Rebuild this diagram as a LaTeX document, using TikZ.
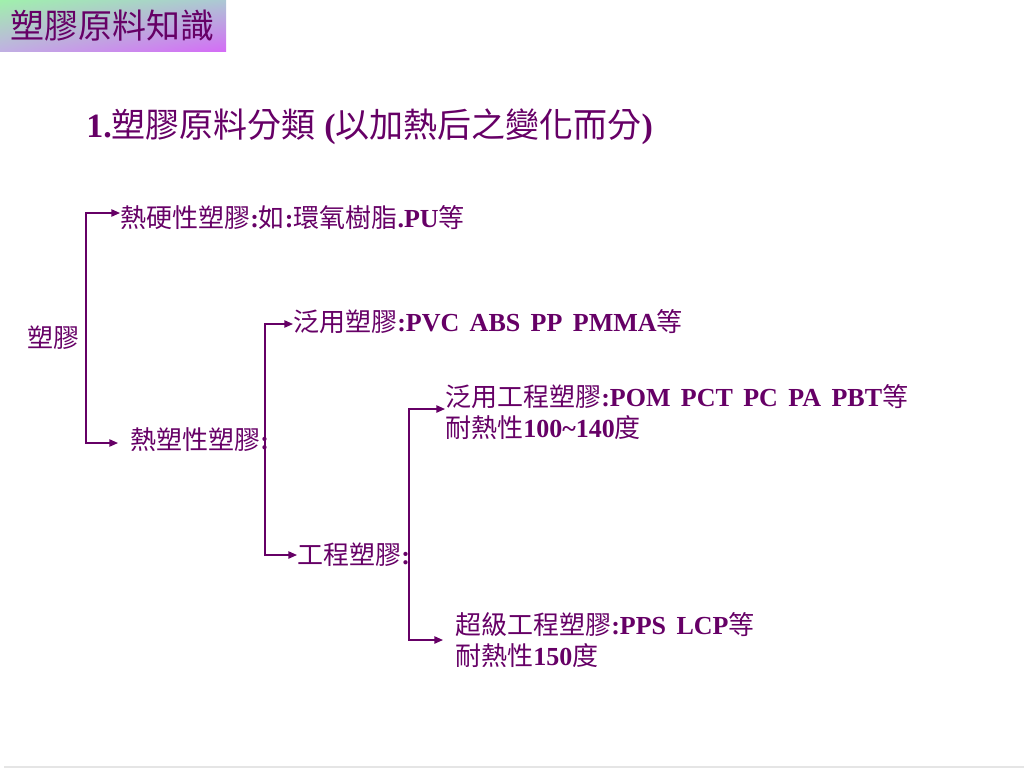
\documentclass[tikz,border=0pt]{standalone}
\usepackage{fontspec}
\setmainfont{Liberation Serif}
\newfontfamily\cjk{Noto Sans CJK TC}
\newcommand{\zh}[1]{{\cjk\mdseries #1}}
\newcommand{\gap}{\hskip0.4em\relax}
\usepackage{tikz}
\usetikzlibrary{positioning}
\usetikzlibrary{arrows.meta}
\usetikzlibrary{shadings}
\definecolor{purp}{RGB}{102,0,102}
\definecolor{boxul}{RGB}{160,240,172}
\definecolor{boxur}{RGB}{172,200,212}
\definecolor{boxll}{RGB}{192,176,226}
\definecolor{boxlr}{RGB}{212,108,246}

\begin{document}
\begin{tikzpicture}[x=0.75pt, y=-0.75pt,
    every node/.style={inner sep=0pt, anchor=west, text=purp,
      font=\fontsize{19.5pt}{23.3pt}\selectfont\bfseries, align=left},
    link/.style={{Triangle[length=6.5pt,width=5.5pt]}-{Triangle[length=6.5pt,width=5.5pt]}, line width=1.1pt, draw=purp}]
              \useasboundingbox (0,0) rectangle (1024,768);
              % Titulo
              \shade[upper left=boxul, upper right=boxur, lower left=boxll, lower right=boxlr]
                (0,0) rectangle (226,51);
              \node[font=\fontsize{25.5pt}{30pt}\selectfont] (title) at (10,26) {\zh{塑膠原料知識}};
              \node[font=\fontsize{25.5pt}{30pt}\selectfont\bfseries] (head) at (86,127) {1.\zh{塑膠原料分類} (\zh{以加熱后之變化而分})};

              % Nodos
              \node (root) at (27,338) {\zh{塑膠}};
              \node (tset) at (120,218) {\zh{熱硬性塑膠}:\zh{如}:\zh{環氧樹脂}.PU\zh{等}};
              \node[inner xsep=9pt] (tplast) at (118,440) {\zh{熱塑性塑膠}:};
              \node (gen) at (293,322) {\zh{泛用塑膠}:PVC\gap ABS\gap PP\gap PMMA\zh{等}};
              \node (eng) at (297,555) {\zh{工程塑膠}:};
              \node (geneng) at (445,412) {\zh{泛用工程塑膠}:POM\gap PCT\gap PC\gap PA\gap PBT\zh{等}\\\zh{耐熱性}100\textasciitilde140\zh{度}};
              \node[inner xsep=9pt] (super) at (443,640) {\zh{超級工程塑膠}:PPS\gap LCP\zh{等}\\\zh{耐熱性}150\zh{度}};

              % Flechas
              \coordinate (b1) at (86,213);
              \coordinate (b2) at (86,443);
              \coordinate (c1) at (265,324);
              \coordinate (c2) at (265,555);
              \coordinate (d1) at (409,409);
              \coordinate (d2) at (409,640);
              \draw[link] (b1 -| tset.west) -- (b1) -- (b2) -- (b2 -| tplast.west);
              \draw[link] (c1 -| gen.west) -- (c1) -- (c2) -- (c2 -| eng.west);
              \draw[link] (d1 -| geneng.west) -- (d1) -- (d2) -- (d2 -| super.west);

              \draw[gray!20, line width=1pt] (4,767) -- (1024,767);
            \end{tikzpicture}
\end{document}
